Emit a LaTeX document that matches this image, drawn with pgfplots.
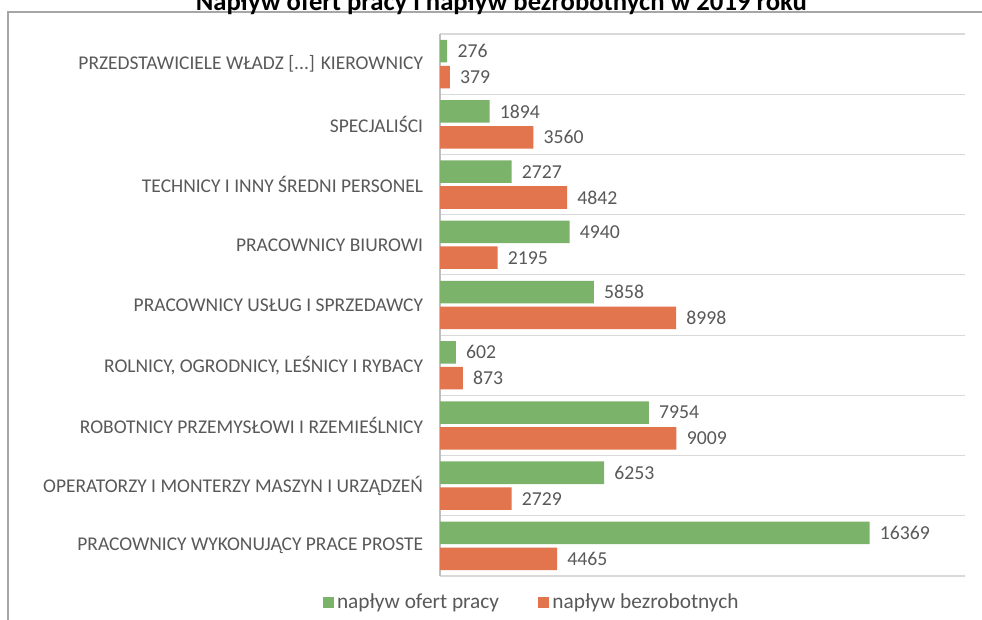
\documentclass[border=0pt]{standalone}
\usepackage{fontspec}
\setmainfont{Carlito}
\usepackage{pgfplots}
\pgfplotsset{compat=1.18}
\definecolor{ofGreen}{HTML}{7BB36A}
\definecolor{ofOrange}{HTML}{E2744E}
\definecolor{txtGray}{HTML}{595959}
\definecolor{gridGray}{HTML}{D9D9D9}
\definecolor{frameGray}{HTML}{A6A6A6}

\begin{document}
\begin{tikzpicture}
\clip (0,0) rectangle (736.5pt,464.25pt);
\fill[white] (0,0) rectangle (736.5pt,464.25pt);
\draw[frameGray, line width=1pt] (6pt,-10pt) rectangle (760pt,455.25pt);
\node[font=\fontsize{20}{22}\selectfont\bfseries, anchor=base, inner sep=0pt] at (376pt,456.7pt)
  {Napływ ofert pracy i napływ bezrobotnych w 2019 roku};
\begin{axis}[
  at={(330pt,32.25pt)}, anchor=south west,
  scale only axis,
  width=393.75pt, height=406.5pt,
  xbar, bar width=16.9pt,
  xmin=0, xmax=20000,
  ymin=-0.5, ymax=8.5,
  y dir=reverse,
  axis x line=none,
  axis y line*=left,
  y axis line style={draw=black!25, line width=0.8pt},
  ytick={0,1,2,3,4,5,6,7,8},
  yticklabels={{PRZEDSTAWICIELE WŁADZ [{...}] KIEROWNICY}, {SPECJALIŚCI}, {TECHNICY I INNY ŚREDNI PERSONEL}, {PRACOWNICY BIUROWI}, {PRACOWNICY USŁUG I SPRZEDAWCY}, {ROLNICY, OGRODNICY, LEŚNICY I RYBACY}, {ROBOTNICY PRZEMYSŁOWI I RZEMIEŚLNICY}, {OPERATORZY I MONTERZY MASZYN I URZĄDZEŃ}, {PRACOWNICY WYKONUJĄCY PRACE PROSTE}},
  yticklabel style={font=\fontsize{14.6}{16}\selectfont, text=txtGray, inner sep=0pt, xshift=-12.5pt},
  minor ytick={-0.5,0.5,1.5,2.5,3.5,4.5,5.5,6.5,7.5,8.5},
  yminorgrids=true,
  minor grid style={draw=gridGray, line width=0.8pt},
  major tick length=0pt, minor tick length=0pt,
  nodes near coords,
  nodes near coords style={font=\fontsize{14.8}{16}\selectfont, text=txtGray, inner sep=0pt, xshift=7.5pt, anchor=west,
    /pgf/number format/assume math mode=true, /pgf/number format/1000 sep={}},
  point meta=x,
  legend style={at={(0.173,-0.048)}, anchor=center, draw=none, fill=none,
    legend columns=2, font=\fontsize{16}{18}\selectfont, text=txtGray,
    nodes={inner sep=0pt},
    /tikz/every even column/.append style={column sep=29.5pt}},
  legend image code/.code={\fill[#1] (0pt,-4.125pt) rectangle (8.25pt,4.125pt); \path (10.5pt,0pt);},
]
\addplot[fill=ofGreen, draw=none, bar shift=9.7pt] coordinates {
  (276,0) (1894,1) (2727,2) (4940,3) (5858,4) (602,5) (7954,6) (6253,7) (16369,8)
};
\addplot[fill=ofOrange, draw=none, bar shift=-9.7pt] coordinates {
  (379,0) (3560,1) (4842,2) (2195,3) (8998,4) (873,5) (9009,6) (2729,7) (4465,8)
};
\legend{napływ ofert pracy, napływ bezrobotnych}
\end{axis}
\end{tikzpicture}
\end{document}
